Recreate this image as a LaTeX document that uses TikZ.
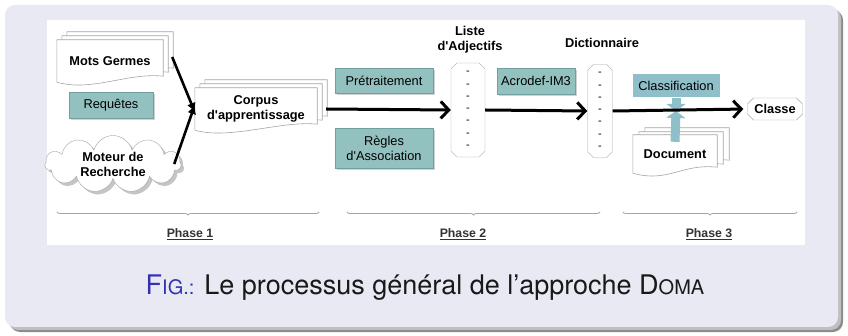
\documentclass[tikz,border=0pt]{standalone}
\usepackage{fontspec}
\setmainfont{Liberation Sans}
\newfontfamily\capfont{TeX Gyre Heros}
\usetikzlibrary{arrows.meta, shapes.misc, shapes.symbols, shadows, decorations.pathreplacing, backgrounds}

\definecolor{blockbg}{RGB}{233,233,243}
\definecolor{tealfill}{RGB}{147,193,192}
\definecolor{tealline}{RGB}{112,160,160}
\definecolor{clsfill}{RGB}{143,191,201}
\definecolor{bracecol}{RGB}{145,168,205}
\definecolor{figblue}{RGB}{51,51,178}
\definecolor{pagegray}{RGB}{165,165,165}

\tikzset{
  lbl/.style = {font=\fontsize{12.8}{15}\selectfont, align=center},
  boldlbl/.style = {font=\fontsize{12.8}{15}\selectfont\bfseries, align=center},
  tealbox/.style = {lbl, fill=tealfill, draw=tealline, inner sep=0pt,
    drop shadow={shadow xshift=2pt, shadow yshift=-2pt, opacity=.35}},
  docnode/.style = {boldlbl, inner sep=0pt},
  listbox/.style = {chamfered rectangle, chamfered rectangle xsep=4pt,
    chamfered rectangle ysep=4pt, draw=pagegray, fill=white, inner sep=0pt,
    font=\fontsize{11}{12.3}\selectfont, align=center},
  pageline/.style = {draw=pagegray, fill=white, line width=0.6pt},
  feed/.style = {line width=2.6pt, -{Latex[length=9pt, width=9pt]}},
  flow/.style = {line width=3pt, -{Straight Barb[length=8pt, width=17pt]}},
  push/.style = {line width=9pt, draw=clsfill, -{Triangle[length=7pt, width=19pt]}},
  phasebrace/.style = {draw=bracecol, line width=0.8pt, decorate,
    decoration={brace, mirror, amplitude=3pt}},
  phase/.style = {font=\fontsize{12.3}{14}\selectfont\bfseries, text=black!80}
}

% one sheet of a document stack, shifted by (#2, #3) from node #1
\newcommand{\docpage}[3]{%
  \draw[pageline] ([shift={(#2, #3)}]#1.south west) -- ([shift={(#2, #3)}]#1.north west)
    -- ([shift={(#2, #3)}]#1.north east) -- ([shift={(#2, #3 - 6)}]#1.south east)
    .. controls +(-35, -4) and +(35, 10) .. ([shift={(#2, #3)}]#1.south west) -- cycle;}
\newcommand{\apos}{\textquotesingle}

\begin{document}
\begin{tikzpicture}[x=1pt, y=-1pt]
		\useasboundingbox (0, 0) rectangle (848, 336);
		%%%%%%%%%%%%%
		\node[docnode, minimum width=106pt, minimum height=42pt] (mots) at (110, 61) {Mots Germes};
		\node[tealbox, minimum width=84pt, minimum height=26pt] (req) at (111, 105) {Requêtes};
		\node[cloud, cloud puffs=11, aspect=2.4, draw=pagegray, fill=white, boldlbl, inner sep=0pt,
			minimum width=136pt, minimum height=56pt,
			drop shadow={shadow xshift=3pt, shadow yshift=-3pt, opacity=.45}] (moteur) at (113, 164) {Moteur de\\Recherche};
		\node[docnode, minimum width=122pt, minimum height=42pt] (corpus) at (256, 109) {Corpus\\d\apos apprentissage};
		%%%%%%%%%%%%%
		\node[tealbox, minimum width=98pt, minimum height=25pt] (pretrait) at (384, 81) {Prétraitement};
		\node[tealbox, minimum width=98pt, minimum height=40pt] (regles) at (384, 148) {Règles\\d\apos Association};
		\node[listbox, minimum width=34pt, minimum height=94pt] (liste) at (468, 110) {-\\-\\-\\-\\-\\-\\-};
		\node[boldlbl] (listetitre) at (470, 40) {Liste\\d\apos Adjectifs};
		\node[tealbox, minimum width=78pt, minimum height=26pt] (acro) at (536, 81) {Acrodef-IM3};
		\node[listbox, minimum width=25pt, minimum height=93pt] (dico) at (600, 111) {-\\-\\-\\-\\-\\-\\-};
		\node[boldlbl] (dicotitre) at (602, 43) {Dictionnaire};
		%%%%%%%%%%%%%
		\node[lbl, fill=clsfill, inner sep=0pt, minimum width=87pt, minimum height=23pt] (classif) at (676, 86) {Classification};
		\node[docnode, minimum width=84pt, minimum height=38pt] (doc) at (675, 154) {Document};
		\node[chamfered rectangle, chamfered rectangle xsep=3pt, chamfered rectangle ysep=3pt,
			draw=pagegray, fill=white, boldlbl, inner sep=0pt, minimum width=55pt, minimum height=22pt] (classe) at (775, 109) {Classe};
		%%%%%%%%%%%%%
		\begin{pgfonlayer}{background}
			\fill[black!45, rounded corners=10pt] (10, 10) rectangle (843, 332);
			\fill[black!25, rounded corners=10pt] (8, 8) rectangle (841, 330);
			\fill[blockbg, rounded corners=10pt] (5, 5) rectangle (838, 327);
			\fill[white] (47, 20) rectangle (805, 245);
			\docpage{mots}{10}{-8} \docpage{mots}{5}{-4} \docpage{mots}{0}{0}
			\docpage{corpus}{10}{-8} \docpage{corpus}{5}{-4} \docpage{corpus}{0}{0}
			\docpage{doc}{12}{-7} \docpage{doc}{6}{-3} \docpage{doc}{0}{0}
		\end{pgfonlayer}
		%%%%%%%%%%%%%
		\draw[feed] ([shift={(9, -4)}]mots.east) to ([yshift=-3]corpus.west);
		\draw[feed] ([xshift=-7]moteur.east) to ([yshift=4]corpus.west);
		\draw[flow] ([xshift=9]corpus.east) to (liste.west);
		\draw[flow] (liste.east) to (dico.west);
		\coordinate (croise) at (676, 111);
		\draw[push] (classif.south) to (croise);
		\draw[push] ([yshift=-7]doc.north) to (croise);
		\draw[flow, shorten >=4pt] (dico.east) to (classe.west);
		%%%%%%%%%%%%%
		\coordinate (ph1a) at (57, 212); \coordinate (ph1b) at (319, 212);
		\coordinate (ph2a) at (347, 212); \coordinate (ph2b) at (600, 212);
		\coordinate (ph3a) at (623, 212); \coordinate (ph3b) at (797, 212);
		\draw[phasebrace] (ph1a) to (ph1b);
		\draw[phasebrace] (ph2a) to (ph2b);
		\draw[phasebrace] (ph3a) to (ph3b);
		\node[phase] (phase1) at (190, 234) {\underline{Phase 1}};
		\node[phase] (phase2) at (463, 234) {\underline{Phase 2}};
		\node[phase] (phase3) at (709, 234) {\underline{Phase 3}};
		%%%%%%%%%%%%%
		\node[font=\capfont\fontsize{27}{30}\selectfont, text=black!90] (legende) at (425, 288)
			{{\color{figblue}F{\fontsize{20}{24}\selectfont IG.:}} Le processus général de l’approche D{\fontsize{20}{24}\selectfont OMA}};
\end{tikzpicture}
\end{document}
